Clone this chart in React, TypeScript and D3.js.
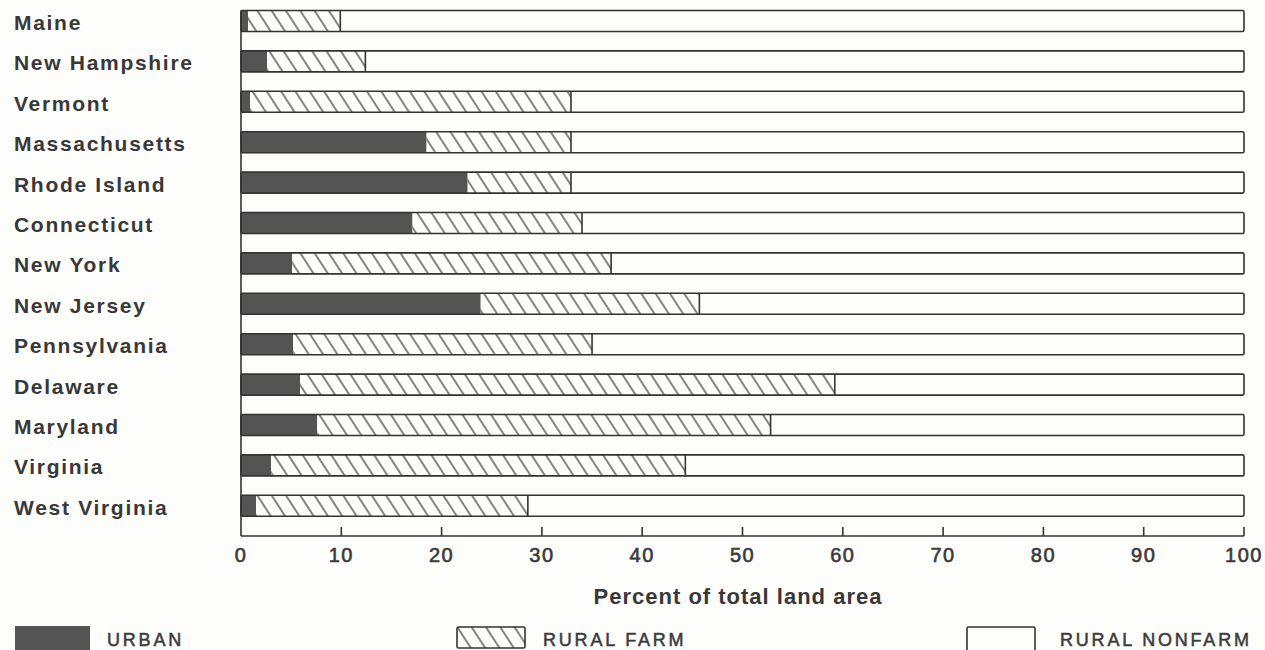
import React from "react";
import * as d3 from "d3";

const states = [
  "Maine",
  "New Hampshire",
  "Vermont",
  "Massachusetts",
  "Rhode Island",
  "Connecticut",
  "New York",
  "New Jersey",
  "Pennsylvania",
  "Delaware",
  "Maryland",
  "Virginia",
  "West Virginia",
];
// percent of total land area
const urban = [0.7, 2.6, 0.9, 18.5, 22.6, 17.1, 5.1, 23.9, 5.2, 5.9, 7.6, 3.0, 1.5];
const ruralFarm = [9.2, 9.8, 32.0, 14.4, 10.3, 16.9, 31.8, 21.8, 29.8, 53.3, 45.2, 41.3, 27.1];
const xTicks = [0, 10, 20, 30, 40, 50, 60, 70, 80, 90, 100];
const legendLabels = ["URBAN", "RURAL FARM", "RURAL NONFARM"];

const W = 1265;
const H = 650;
const INK = "#333";
const BG = "#fdfdfb";
const FONT = "'Liberation Sans', Arial, Helvetica, sans-serif";

export default function App() {
  const x = d3.scaleLinear().domain([0, 100]).range([241, 1244]);
  const y = d3
    .scaleBand<string>()
    .domain(states)
    .range([0.8, 526])
    .paddingInner(0.48)
    .paddingOuter(0.24);
  const bh = y.bandwidth();
  const axisY = 536;

  const legendX = [15, 457, 967];
  const legendTextX = [107, 543, 1060];

  return (
    <svg
      width={W}
      height={H}
      style={{ position: "absolute", left: 0, top: 0, background: BG }}
      fontFamily={FONT}
    >
      <defs>
        <pattern
          id="hatch"
          patternUnits="userSpaceOnUse"
          width={12}
          height={20}
          patternTransform="rotate(-33)"
        >
          <rect width={12} height={20} fill={BG} />
          <line x1={6} y1={-1} x2={6} y2={21} stroke={INK} strokeWidth={1.2} />
        </pattern>
      </defs>
      <rect width={W} height={H} fill={BG} />

      {/* bars */}
      {states.map((s, i) => {
        const y0 = y(s)!;
        const u = urban[i];
        const f = u + ruralFarm[i];
        return (
          <g key={s}>
            <rect x={x(0)} y={y0} width={x(100) - x(0)} height={bh} fill={BG} />
            <rect x={x(0)} y={y0} width={x(u) - x(0)} height={bh} fill="#545454" />
            <rect x={x(u)} y={y0} width={x(f) - x(u)} height={bh} fill="url(#hatch)" />
            <line x1={x(f)} x2={x(f)} y1={y0} y2={y0 + bh} stroke={INK} strokeWidth={1.6} />
            <rect
              x={x(0)}
              y={y0}
              width={x(100) - x(0)}
              height={bh}
              fill="none"
              stroke={INK}
              strokeWidth={1.6}
              rx={1.5}
            />
            <text
              x={14}
              y={y0 + bh / 2 + 9}
              fontSize={21}
              fontWeight={700}
              fill="#383838"
              letterSpacing={1.7}
            >
              {s}
            </text>
          </g>
        );
      })}

      {/* axes */}
      <line x1={x(0)} x2={x(0)} y1={y(states[0])!} y2={axisY} stroke={INK} strokeWidth={1.6} />
      <line x1={x(0)} x2={x(100)} y1={axisY} y2={axisY} stroke={INK} strokeWidth={1.6} />
      {xTicks.map((t) => (
        <g key={t}>
          {t > 0 && (
            <line x1={x(t)} x2={x(t)} y1={axisY - 9} y2={axisY} stroke={INK} strokeWidth={1.6} />
          )}
          <text
            x={x(t)}
            y={562}
            textAnchor="middle"
            fontSize={20}
            fill="#3a3a3a"
            stroke="#3a3a3a"
            strokeWidth={0.6}
            letterSpacing={1.5}
          >
            {t}
          </text>
        </g>
      ))}
      <text
        x={738}
        y={604}
        textAnchor="middle"
        fontSize={22}
        fontWeight={700}
        fill="#383838"
        letterSpacing={1}
      >
        Percent of total land area
      </text>

      {/* legend */}
      <rect x={legendX[0]} y={626} width={75} height={26} fill="#545454" />
      <rect x={legendX[1]} y={627} width={68} height={21} fill="url(#hatch)" stroke={INK} strokeWidth={1.6} rx={1.5} />
      <rect x={legendX[2]} y={627} width={68} height={25} fill={BG} stroke={INK} strokeWidth={1.6} rx={1.5} />
      {legendLabels.map((l, i) => (
        <text
          key={l}
          x={legendTextX[i]}
          y={646}
          fontSize={18}
          fill="#3a3a3a"
          stroke="#3a3a3a"
          strokeWidth={0.5}
          letterSpacing={2.8}
        >
          {l}
        </text>
      ))}
    </svg>
  );
}
